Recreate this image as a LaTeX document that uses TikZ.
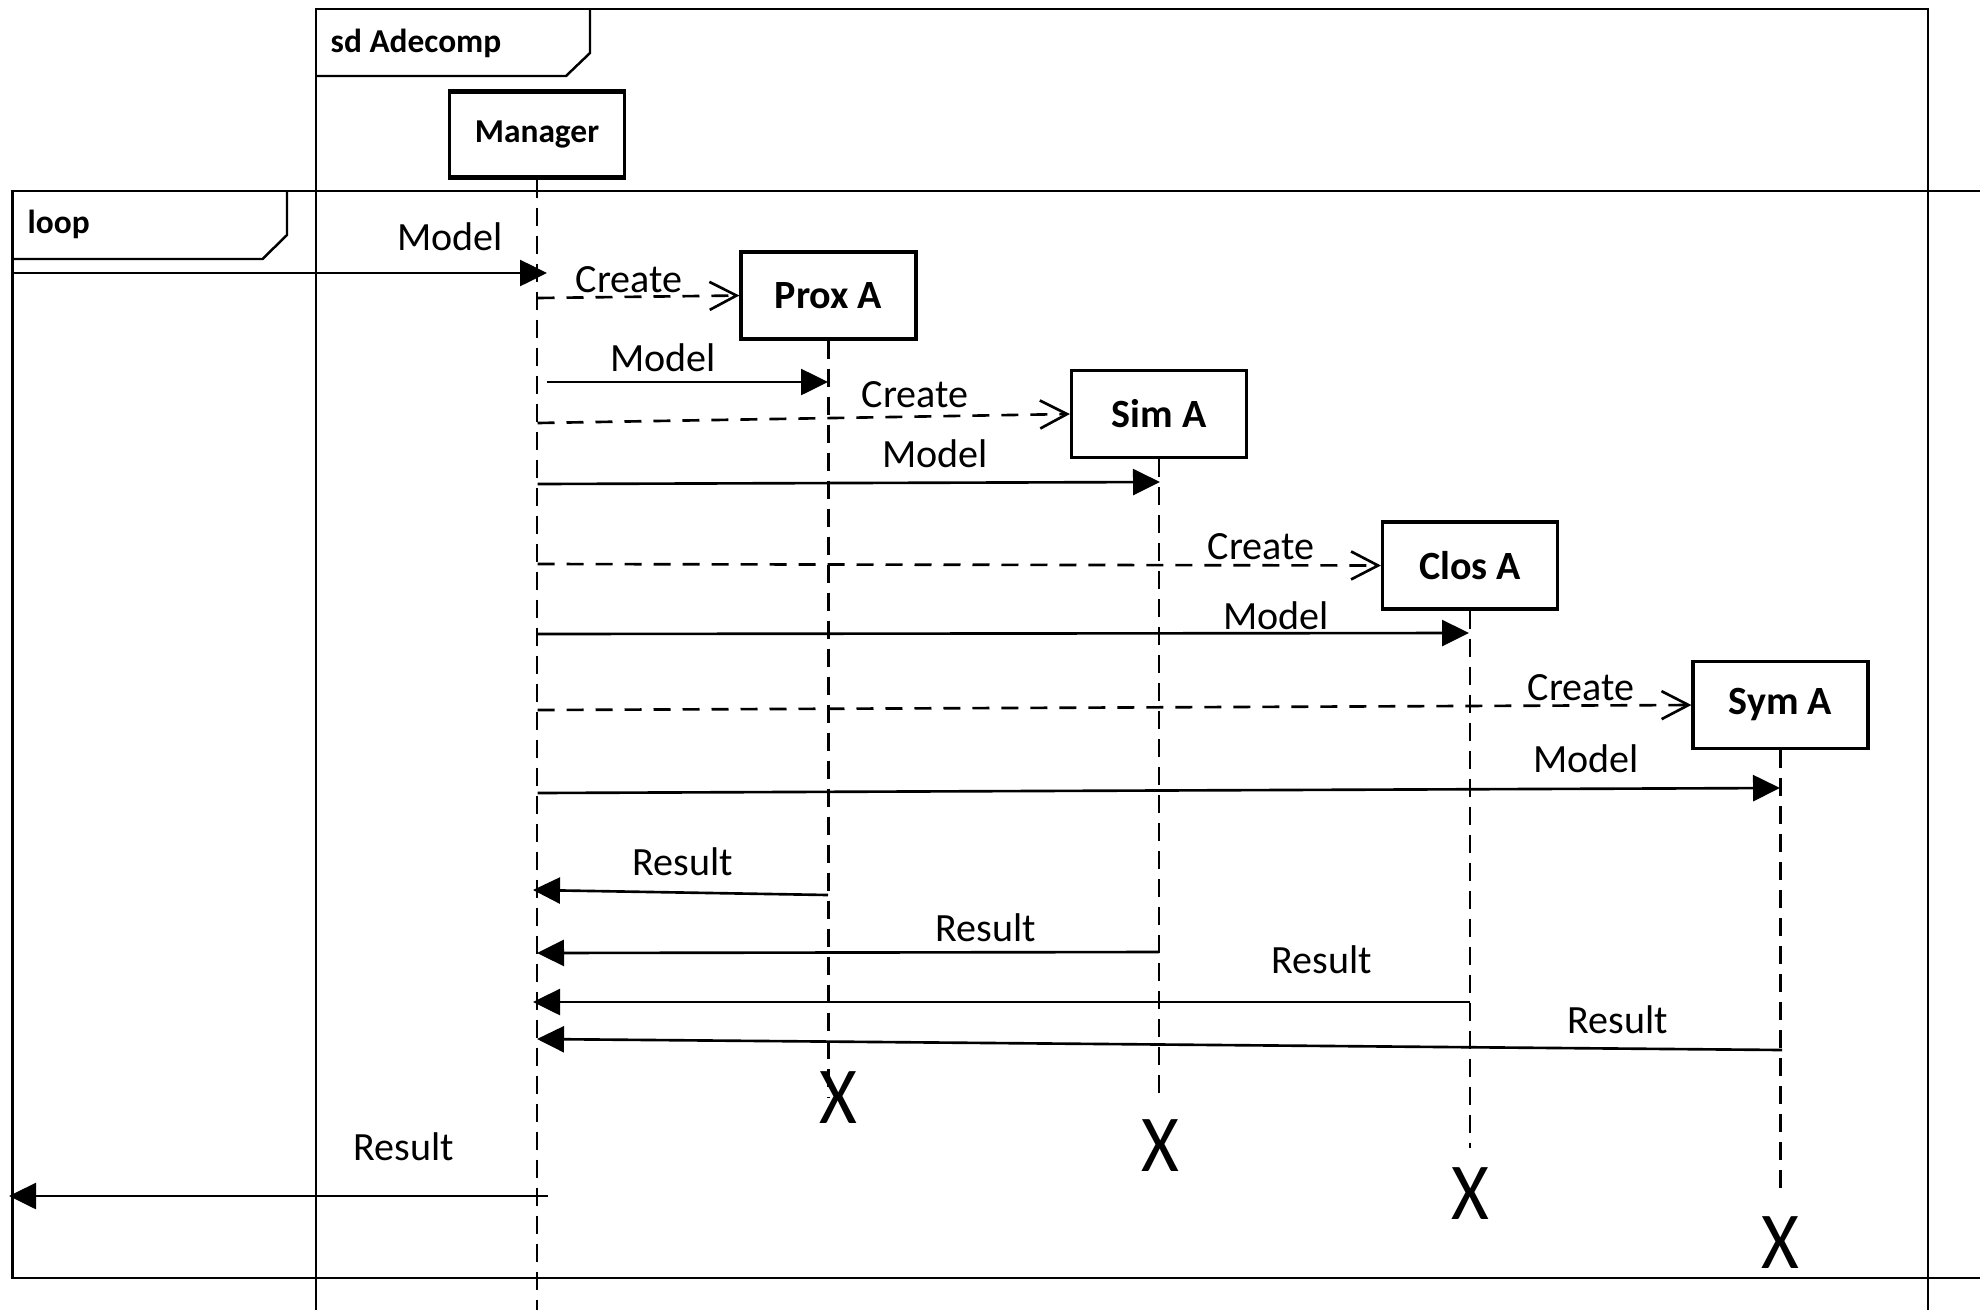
\documentclass[tikz,border=0pt]{standalone}
\usepackage{fontspec}
\setmainfont{Carlito}
\usetikzlibrary{arrows.meta}

\tikzset{
  frame/.style={line width=0.7pt},
  framelabel/.style={anchor=base west,inner sep=0pt,font=\fontsize{9.5}{11}\selectfont\bfseries},
  obj/.style={draw,line width=0.9pt,minimum width=1.75cm,minimum height=0.87cm,inner sep=0pt,
    font=\fontsize{11.4}{13}\selectfont\bfseries},
  lifeline/.style={line width=0.75pt,dash pattern=on 0.18cm off 0.1cm},
  call/.style={line width=0.75pt,-{Triangle[length=0.27cm,width=0.26cm]}},
  create/.style={line width=0.75pt,dash pattern=on 0.17cm off 0.12cm,-{Straight Barb[length=0.27cm,width=0.28cm]}},
  msglabel/.style={anchor=base,inner sep=0pt,font=\fontsize{11.4}{13}\selectfont},
  kill/.style={inner sep=0pt,font=\fontsize{23}{23}\selectfont}
}

\begin{document}
\begin{tikzpicture}[x=1cm,y=-1cm]
\useasboundingbox (0,0) rectangle (19.8,13.1);

% frames
\draw[frame] (3.16,13.1) -- (3.16,0.09) -- (19.28,0.09) -- (19.28,13.1);
\draw[frame] (3.16,0.76) -- (5.66,0.76) -- (5.90,0.53) -- (5.90,0.09);
\node[framelabel] (sdname) at (3.30,0.52) {sd Adecomp};
\draw[frame] (19.8,1.91) -- (0.126,1.91) -- (0.126,12.78) -- (19.8,12.78);
\draw[frame] (0.126,2.59) -- (2.625,2.59) -- (2.87,2.35) -- (2.87,1.91);
\node[framelabel] (loopname) at (0.27,2.33) {loop};

% objects
\node[obj,font=\fontsize{9.5}{11}\selectfont\bfseries] (mgr) at (5.37,1.345) {Manager};
\draw[line width=0.8pt] ([yshift=-0.035cm]mgr.north west) -- ([yshift=-0.035cm]mgr.north east);
\draw[line width=0.8pt] ([yshift=0.035cm]mgr.south west) -- ([yshift=0.035cm]mgr.south east);
\node[obj] (prox) at (8.285,2.955) {Prox A};
\node[obj] (sim) at (11.59,4.14) {Sim A};
\node[obj] (clos) at (14.70,5.655) {Clos A};
\node[obj] (sym) at (17.805,7.05) {Sym A};

\node[kill] (xprox) at (8.385,10.975) {\scalebox{0.9}[1]{X}};
\node[kill] (xsim) at (11.60,11.46) {\scalebox{0.9}[1]{X}};
\node[kill] (xclos) at (14.70,11.94) {\scalebox{0.9}[1]{X}};
\node[kill] (xsym) at (17.80,12.425) {\scalebox{0.9}[1]{X}};

% lifelines
\coordinate (mgrend) at (5.37,13.1);
\coordinate (proxend) at (8.285,10.97);
\coordinate (simend) at (11.59,10.93);
\coordinate (closend) at (14.70,11.48);
\coordinate (symend) at (17.805,11.97);
\draw[lifeline] (mgr.south) -- (mgrend);
\draw[lifeline] (prox.south) -- (proxend);
\draw[lifeline] (sim.south) -- (simend);
\draw[lifeline] (clos.south) -- (closend);
\draw[lifeline] (sym.south) -- (symend);

% incoming model
\coordinate (gin) at (0.126,2.73);
\coordinate (min) at (5.47,2.73);
\draw[call] (gin) -- (min);
\node[msglabel] (lmodel0) at (4.50,2.50) {Model};

% create and model calls
\coordinate (c1) at (5.375,2.98);
\draw[create] (c1) -- (prox.west);
\node[msglabel] (lcreate1) at (6.29,2.92) {Create};
\coordinate (m1a) at (5.47,3.82);
\coordinate (m1b) at (8.28,3.82);
\draw[call] (m1a) -- (m1b);
\node[msglabel] (lmodel1) at (6.63,3.71) {Model};

\coordinate (c2) at (5.375,4.23);
\draw[create] (c2) -- (sim.west);
\node[msglabel] (lcreate2) at (9.15,4.07) {Create};
\coordinate (m2a) at (5.375,4.84);
\coordinate (m2b) at (11.60,4.82);
\draw[call] (m2a) -- (m2b);
\node[msglabel] (lmodel2) at (9.35,4.67) {Model};

\coordinate (c3) at (5.375,5.64);
\draw[create] (c3) -- (clos.west);
\node[msglabel] (lcreate3) at (12.61,5.59) {Create};
\coordinate (m3a) at (5.375,6.34);
\coordinate (m3b) at (14.69,6.33);
\draw[call] (m3a) -- (m3b);
\node[msglabel] (lmodel3) at (12.76,6.29) {Model};

\coordinate (c4) at (5.375,7.10);
\draw[create] (c4) -- (sym.west);
\node[msglabel] (lcreate4) at (15.81,7.00) {Create};
\coordinate (m4a) at (5.375,7.93);
\coordinate (m4b) at (17.80,7.88);
\draw[call] (m4a) -- (m4b);
\node[msglabel] (lmodel4) at (15.86,7.72) {Model};

% results
\coordinate (r1a) at (8.28,8.95);
\coordinate (r1b) at (5.33,8.90);
\draw[call] (r1a) -- (r1b);
\node[msglabel] (lres1) at (6.83,8.75) {Result};
\coordinate (r2a) at (11.59,9.52);
\coordinate (r2b) at (5.37,9.53);
\draw[call] (r2a) -- (r2b);
\node[msglabel] (lres2) at (9.86,9.41) {Result};
\coordinate (r3a) at (14.70,10.02);
\coordinate (r3b) at (5.33,10.02);
\draw[call] (r3a) -- (r3b);
\node[msglabel] (lres3) at (13.22,9.73) {Result};
\coordinate (r4a) at (17.82,10.50);
\coordinate (r4b) at (5.37,10.39);
\draw[call] (r4a) -- (r4b);
\node[msglabel] (lres4) at (16.18,10.33) {Result};

\coordinate (rout) at (5.48,11.96);
\coordinate (gout) at (0.09,11.96);
\draw[call] (rout) -- (gout);
\node[msglabel] (lres0) at (4.04,11.60) {Result};
\end{tikzpicture}
\end{document}
